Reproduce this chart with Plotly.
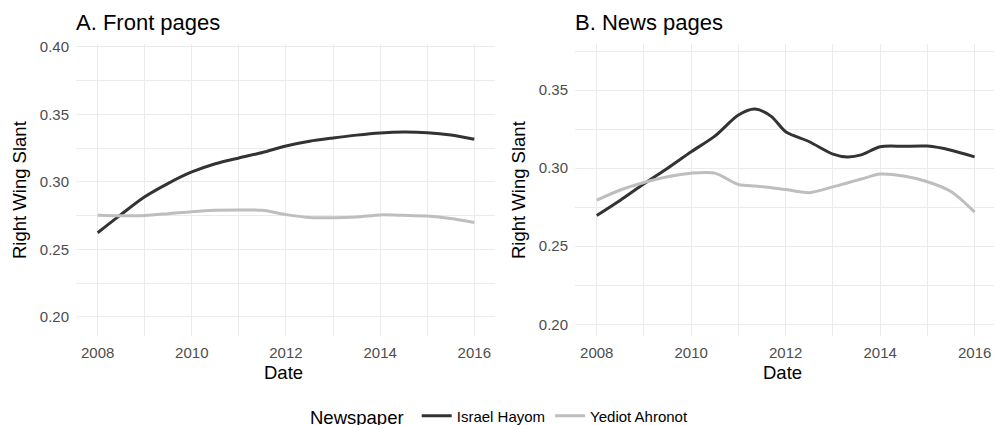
import plotly.graph_objects as go

W, H = 994, 425

# ---- data ----
years = [2008, 2008.5, 2009, 2009.5, 2010, 2010.5, 2011, 2011.5, 2012, 2012.5,
         2013, 2013.5, 2014, 2014.5, 2015, 2015.5, 2016]

front_hayom = [0.2624, 0.276, 0.289, 0.299, 0.3074, 0.3135, 0.3178, 0.3218, 0.3267, 0.3302,
               0.3326, 0.3347, 0.3363, 0.3370, 0.3365, 0.3348, 0.3316]
front_yediot = [0.2754, 0.2750, 0.2752, 0.2765, 0.2780, 0.2790, 0.2793, 0.2790, 0.2758, 0.2737,
                0.2735, 0.2740, 0.2756, 0.2753, 0.2748, 0.2730, 0.2700]

news_years = [2008, 2008.5, 2009, 2009.5, 2010, 2010.5, 2011, 2011.35, 2011.7, 2012, 2012.5,
              2013, 2013.3, 2013.6, 2014, 2014.5, 2015, 2015.5, 2016]
news_hayom = [0.2697, 0.2795, 0.290, 0.300, 0.3105, 0.3205, 0.334, 0.3378, 0.3330, 0.3233, 0.3169,
              0.309, 0.3072, 0.3085, 0.3137, 0.3140, 0.3141, 0.3115, 0.3072]
news_yediot = [0.2795, 0.2860, 0.2908, 0.2945, 0.2968, 0.2968, 0.2895, 0.2885, 0.2875, 0.2863, 0.2843,
               0.2880, 0.2905, 0.2930, 0.2962, 0.2950, 0.2913, 0.2850, 0.2718]

series_names = ["Israel Hayom", "Yediot Ahronot"]
series_colors = ["#333333", "#BEBEBE"]
x_ticks = [2008, 2010, 2012, 2014, 2016]
y_ticks = [0.20, 0.25, 0.30, 0.35, 0.40]
panel_titles = ["A. Front pages", "B. News pages"]

FONT = "Liberation Sans, Arial, sans-serif"

fig = go.Figure()

# panel pixel geometry
pA = (76, 495)
pB = (575, 994)
ptop, pbot = 44, 336

def fx(px):
    return px / W

def fy(py):
    return 1 - py / H

panels = [
    ("x", "y", years, [front_hayom, front_yediot], [2007.54, 2016.44], [0.1859, 0.4022], pA),
    ("x2", "y2", news_years, [news_hayom, news_yediot], [2007.54, 2016.41], [0.1925, 0.3795], pB),
]

for i, (xa, ya, xs, ys, xr, yr, (l, r)) in enumerate(panels):
    for j in range(2):
        fig.add_trace(go.Scatter(
            x=xs, y=ys[j], xaxis=xa, yaxis=ya, mode="lines",
            name=series_names[j], legendgroup=series_names[j], showlegend=(i == 0),
            line=dict(color=series_colors[j], width=3, shape="spline", smoothing=0.8),
            hoverinfo="skip",
        ))
    xkey = "xaxis" if xa == "x" else "xaxis2"
    ykey = "yaxis" if ya == "y" else "yaxis2"
    fig.update_layout(**{
        xkey: dict(
            domain=[fx(l), fx(r)], anchor=ya, range=xr,
            tickvals=x_ticks, ticktext=[str(v) for v in x_ticks],
            showgrid=True, gridcolor="#EBEBEB", gridwidth=1.1,
            minor=dict(dtick=1, tick0=2007, showgrid=True, gridcolor="#EBEBEB", gridwidth=0.7),
            zeroline=False, showline=False, ticks="", automargin=False,
            tickfont=dict(family=FONT, size=15, color="#4D4D4D"),
            ticklabelstandoff=6,
        ),
        ykey: dict(
            domain=[fy(pbot), fy(ptop)], anchor=xa, range=yr,
            tickvals=y_ticks, ticktext=["%.2f" % v for v in y_ticks],
            showgrid=True, gridcolor="#EBEBEB", gridwidth=1.1,
            minor=dict(dtick=0.025, tick0=0.175, showgrid=True, gridcolor="#EBEBEB", gridwidth=0.7),
            zeroline=False, showline=False, ticks="", automargin=False,
            tickfont=dict(family=FONT, size=15, color="#4D4D4D"),
            ticklabelstandoff=6,
        ),
    })
    # panel title
    fig.add_annotation(text=panel_titles[i], x=fx(l - 2), y=fy(23), xref="paper", yref="paper",
                       xanchor="left", yanchor="middle", showarrow=False,
                       font=dict(family=FONT, size=22, color="#000000"))
    # x axis title
    fig.add_annotation(text="Date", x=fx((l + r) / 2 - 2), y=fy(372), xref="paper", yref="paper",
                       xanchor="center", yanchor="middle", showarrow=False,
                       font=dict(family=FONT, size=18.5, color="#000000"))
    # y axis title
    fig.add_annotation(text="Right Wing Slant", x=fx(l - 56), y=fy(190),
                       xref="paper", yref="paper", textangle=-90,
                       xanchor="center", yanchor="middle", showarrow=False,
                       font=dict(family=FONT, size=18.5, color="#000000"))

fig.update_layout(
    width=W, height=H,
    margin=dict(l=0, r=0, t=0, b=0, autoexpand=False),
    paper_bgcolor="white", plot_bgcolor="white",
    showlegend=True,
    legend=dict(
        orientation="h", x=fx(308), y=fy(417), xanchor="left", yanchor="middle",
        title=dict(text="Newspaper ", side="left", font=dict(family=FONT, size=18.5, color="#000000")),
        font=dict(family=FONT, size=15, color="#000000"),
        itemwidth=30, bgcolor="rgba(0,0,0,0)",
    ),
)

fig.write_html("out.html")
